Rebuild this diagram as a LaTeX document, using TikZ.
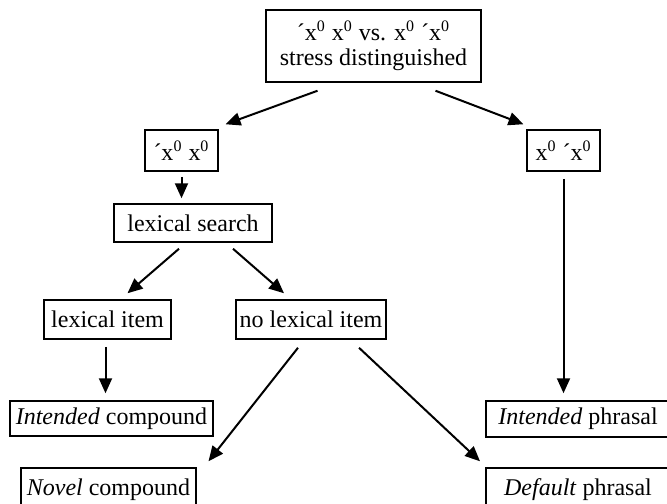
\documentclass[tikz,border=0pt]{standalone}
\usepackage{fontspec}
\setmainfont{Liberation Serif}
\usetikzlibrary{arrows.meta}
\newcommand{\xzero}{x\textsuperscript{0}}
\begin{document}
\begin{tikzpicture}[x=0.5pt,y=-0.5pt,
  box/.style={draw, line width=0.75pt, inner sep=0pt, font=\fontsize{12}{12.5}\selectfont},
  arr/.style={line width=1pt, -{Triangle[length=7.5pt,width=6.5pt]}}]
\useasboundingbox (0,0) rectangle (667,503);

\node[box, minimum width=107.5pt, minimum height=36pt, align=center] (top) at (373.5,46) {´\xzero{} \xzero{} vs. \xzero{} ´\xzero\\stress distinguished};
\node[box, minimum width=36.5pt, minimum height=20.5pt] (lx) at (181.5,150.5) {´\xzero{} \xzero};
\node[box, minimum width=36.5pt, minimum height=20.5pt] (rx) at (563.5,150.5) {\xzero{} ´\xzero};
\node[box, minimum width=79pt, minimum height=19pt] (search) at (193,223) {lexical search};
\node[box, minimum width=63.5pt, minimum height=19.5pt] (item) at (107.5,319.5) {lexical item};
\node[box, minimum width=75pt, minimum height=19.5pt] (noitem) at (311,319.5) {no lexical item};
\node[box, minimum width=101.5pt, minimum height=17.5pt] (icomp) at (111.5,418.5) {\textit{Intended} compound};
\node[box, minimum width=87.5pt, minimum height=22pt] (ncomp) at (108.5,490) {\textit{Novel} compound};
\node[box, minimum width=92pt, minimum height=18pt] (iphr) at (578,419) {\textit{Intended} phrasal};
\node[box, minimum width=92pt, minimum height=22pt] (dphr) at (578,490) {\textit{Default} phrasal};

\path[draw,arr] ([shift={(-56,8)}]top.south) -- ([shift={(44,-5)}]lx.north);
\path[draw,arr] ([shift={(62,8)}]top.south) -- ([shift={(-40,-5)}]rx.north);
\path[draw,arr,shorten <=2.5pt,shorten >=2.5pt] (lx.south) -- (lx.south |- search.north);
\path[draw,arr] ([shift={(-14,6)}]search.south) -- ([shift={(20,-6)}]item.north);
\path[draw,arr] ([shift={(40,6)}]search.south) -- ([shift={(-27,-6)}]noitem.north);
\path[draw,arr,shorten <=3.5pt,shorten >=3.5pt] ([xshift=-1pt]item.south) -- ([xshift=-1pt]item.south |- icomp.north);
\path[draw,arr] ([shift={(-13,8)}]noitem.south) -- ([shift={(100,-6)}]ncomp.north);
\path[draw,arr] ([shift={(48,8)}]noitem.south) -- ([shift={(-98,-6)}]dphr.north);
\path[draw,arr,shorten <=3.5pt,shorten >=3.5pt] (rx.south) -- (rx.south |- iphr.north);
\end{tikzpicture}
\end{document}
